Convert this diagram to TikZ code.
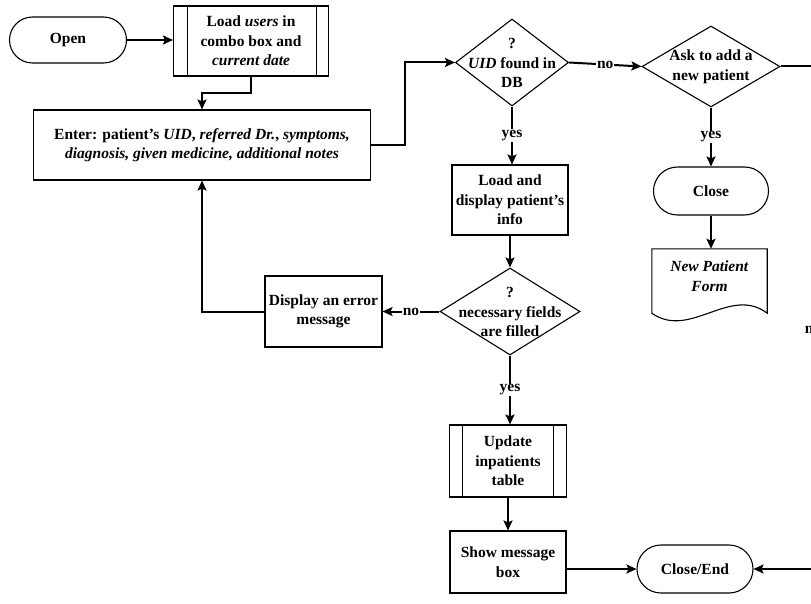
\documentclass[tikz,border=0pt]{standalone}
\usepackage{fontspec}
\setmainfont{Liberation Serif}
\usetikzlibrary{shapes.geometric,shapes.misc,arrows.meta}
\begin{document}
\begin{tikzpicture}[x=1pt,y=-1pt,
  font=\fontsize{15.5}{19.5}\selectfont\bfseries,
  box/.style={draw, line width=1.1pt, align=center, inner sep=0pt},
  term/.style={draw, rounded rectangle, line width=1.1pt, align=center, inner sep=0pt},
  dia/.style={draw, diamond, line width=1.1pt, inner sep=0pt},
  txt/.style={align=center, inner sep=0pt},
  conn/.style={line width=2pt, -{Stealth[length=10pt,width=9pt,inset=2pt]}},
  plain/.style={line width=2pt},
  lbl/.style={fill=white, inner sep=1pt},
  inner/.style={line width=0.9pt}
]
\useasboundingbox (0,0) rectangle (811,604);
\fill[white] (0,0) rectangle (811,604);

% nodes
\node[term, minimum width=117pt, minimum height=46pt] (open) at (68,40) {Open};
\node[box, minimum width=155pt, minimum height=70pt] (load) at (251,41)
  {Load \textit{users} in\\combo box and\\\textit{current date}};
\draw[inner] ([xshift=14pt]load.north west) -- ([xshift=14pt]load.south west);
\draw[inner] ([xshift=-13pt]load.north east) -- ([xshift=-13pt]load.south east);

\node[box, minimum width=337pt, minimum height=70pt] (enter) at (202,145)
  {Enter: patient’s \textit{UID}, \textit{referred Dr.}, \textit{symptoms,}\\\textit{diagnosis, given medicine, additional notes}};

\node[dia, minimum width=113pt, minimum height=87pt] (uid) at (512,62.5) {};
\node[txt] (uidt) at (512,63) {?\\\textit{UID} found in\\DB};

\node[dia, minimum width=138pt, minimum height=81pt] (ask) at (711,66.5) {};
\node[txt] (askt) at (711,67) {Ask to add a\\new patient};

\node[box, minimum width=116pt, minimum height=70pt] (disp) at (510,200)
  {Load and\\display patient’s\\info};

\node[term, minimum width=115pt, minimum height=48pt] (close) at (711,191) {Close};

\node[minimum width=115pt, minimum height=64pt, inner sep=0pt] (doc) at (709.5,281) {};
\draw[line width=1.1pt] (doc.south west) -- (doc.north west) -- (doc.north east) -- (doc.south east)
  .. controls (730,285) and (690,340) .. (doc.south west) -- cycle;
\node[txt] (doct) at (709.5,276) {\textit{New Patient}\\\textit{Form}};

\node[dia, minimum width=140pt, minimum height=87pt] (nec) at (510,311.5) {};
\node[txt] (nect) at (510,312) {?\\necessary fields\\are filled};

\node[box, minimum width=117pt, minimum height=71pt] (err) at (323.5,311.5)
  {Display an error\\message};

\node[box, minimum width=117pt, minimum height=72pt] (upd) at (508,461)
  {Update\\inpatients\\table};
\draw[inner] ([xshift=13.5pt]upd.north west) -- ([xshift=13.5pt]upd.south west);
\draw[inner] ([xshift=-13.5pt]upd.north east) -- ([xshift=-13.5pt]upd.south east);

\node[box, minimum width=116pt, minimum height=62pt] (show) at (508,562)
  {Show message\\box};

\node[term, minimum width=116pt, minimum height=48pt] (cend) at (695,569) {Close/End};

% connectors
\coordinate (j1) at (405,145);
\coordinate (r1) at (811.5,66.5);
\coordinate (r2) at (811.5,569);

\draw[conn] (open.east) -- (open.east -| load.west);
\draw[conn] (load.south) -- ++(0,16) -| (enter.north);
\draw[conn] (enter.east) -- (j1) |- (uid.west);
\draw[conn] (uid.east) -- node[lbl]{no} (ask.west);
\draw[conn] (uid.south) -- node[lbl]{yes} (uid.south |- disp.north);
\draw[conn] (ask.south) -- node[lbl]{yes} (ask.south |- close.north);
\draw[conn] (close.south) -- (close.south |- doc.north);
\draw[conn] (disp.south) -- (nec.north);
\draw[conn] (nec.west) -- node[lbl]{no} (err.east);
\draw[conn] (err.west) -| (enter.south);
\draw[conn] (nec.south) -- node[lbl]{yes} (nec.south |- upd.north);
\draw[conn] (upd.south) -- (show.north);
\draw[conn] (show.east |- cend.west) -- (cend.west);
\draw[plain] (ask.east) -- (r1) -- (r2);
\node[lbl] (nor) at (813,330) {no};
\draw[conn] (r2) -- (cend.east);
\end{tikzpicture}
\end{document}
